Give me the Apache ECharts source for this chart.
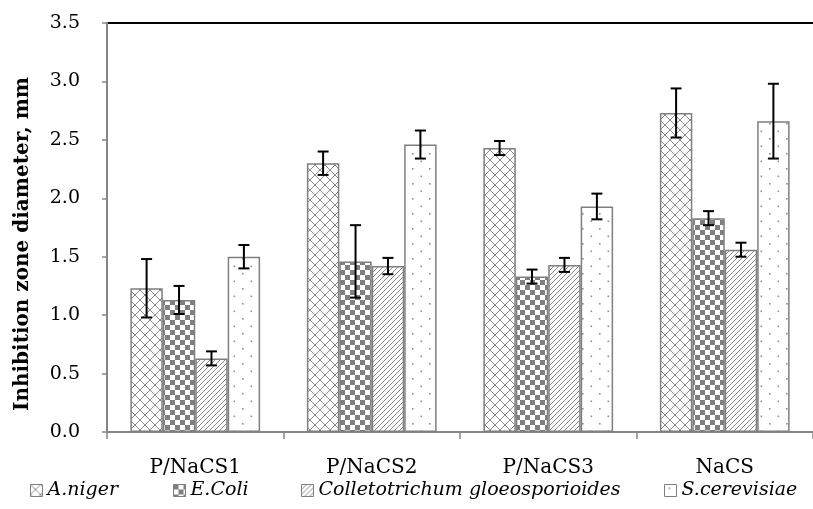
<!DOCTYPE html>
<html>
<head>
<meta charset="utf-8">
<script src="https://cdn.jsdelivr.net/npm/echarts@6/dist/echarts.min.js"></script>
<style>
html,body{margin:0;padding:0;background:#fff;}
#chart{width:813px;height:509px;}
</style>
</head>
<body>
<div id="chart"></div>
<script>
// ---- data ----
const categories = ['P/NaCS1', 'P/NaCS2', 'P/NaCS3', 'NaCS'];
const seriesNames = ['A.niger', 'E.Coli', 'Colletotrichum gloeosporioides', 'S.cerevisiae'];
const anigerValues = [1.23, 2.30, 2.43, 2.73];
const ecoliValues = [1.13, 1.46, 1.33, 1.83];
const colletoValues = [0.63, 1.42, 1.43, 1.56];
const scerValues = [1.50, 2.46, 1.93, 2.66];
const anigerErr = [0.25, 0.10, 0.06, 0.21];
const ecoliErr = [0.12, 0.31, 0.06, 0.06];
const colletoErr = [0.06, 0.07, 0.06, 0.06];
const scerErr = [0.10, 0.12, 0.11, 0.32];
const yTicks = { min: 0, max: 3.5, interval: 0.5 };
const yTitle = 'Inhibition zone diameter, mm';

const allValues = [anigerValues, ecoliValues, colletoValues, scerValues];
const allErrs = [anigerErr, ecoliErr, colletoErr, scerErr];

// ---- patterns ----
const GREY = '#7f7f7f';
function makeCanvas(w, h, draw) {
  const c = document.createElement('canvas');
  c.width = w; c.height = h;
  const ctx = c.getContext('2d');
  ctx.fillStyle = '#fff';
  ctx.fillRect(0, 0, w, h);
  draw(ctx, w, h);
  return c;
}
const crossHatch = makeCanvas(10, 10, (ctx, w, h) => {
  ctx.strokeStyle = '#8c8c8c'; ctx.lineWidth = 1;
  ctx.beginPath();
  ctx.moveTo(0, 0); ctx.lineTo(w, h);
  ctx.moveTo(w, 0); ctx.lineTo(0, h);
  ctx.stroke();
});
const checker = makeCanvas(10, 10, (ctx) => {
  ctx.fillStyle = GREY;
  ctx.fillRect(0, 0, 5, 5);
  ctx.fillRect(5, 5, 5, 5);
});
const diagonal = makeCanvas(5, 5, (ctx, w, h) => {
  ctx.strokeStyle = '#8a8a8a'; ctx.lineWidth = 1;
  ctx.beginPath();
  ctx.moveTo(-1, h + 1); ctx.lineTo(w + 1, -1);
  ctx.moveTo(-1, 1); ctx.lineTo(1, -1);
  ctx.moveTo(w - 1, h + 1); ctx.lineTo(w + 1, h - 1);
  ctx.stroke();
});
const dots = makeCanvas(17, 15, (ctx) => {
  ctx.fillStyle = '#909090';
  ctx.fillRect(4, 3, 1.6, 1.6);
  ctx.fillRect(12.5, 10.5, 1.6, 1.6);
});
const patterns = [crossHatch, checker, diagonal, dots];

const GAP = 0.265;
const barSeries = seriesNames.map((name, k) => ({
  name: name,
  type: 'bar',
  data: allValues[k],
  barGap: '0%',
  barCategoryGap: (GAP * 100) + '%',
  itemStyle: {
    color: { image: patterns[k], repeat: 'repeat' },
    borderColor: GREY,
    borderWidth: 1.5
  },
  z: 2
}));

const errSeries = seriesNames.map((name, k) => ({
  name: name + ' err',
  type: 'custom',
  data: allValues[k].map((v, i) => [i, v, allErrs[k][i]]),
  encode: { x: 0, y: 1 },
  z: 5,
  silent: true,
  renderItem: function (params, api) {
    const i = api.value(0), v = api.value(1), e = api.value(2);
    const catW = api.size([1, 0])[0];
    const barW = catW * (1 - GAP) / 4;
    const cx = api.coord([i, v])[0] + (k - 1.5) * barW;
    const yTop = api.coord([i, v + e])[1];
    const yBot = api.coord([i, v - e])[1];
    const cap = 5.5;
    const st = { stroke: '#000', lineWidth: 2 };
    return {
      type: 'group',
      children: [
        { type: 'line', shape: { x1: cx, y1: yTop, x2: cx, y2: yBot }, style: st },
        { type: 'line', shape: { x1: cx - cap, y1: yTop, x2: cx + cap, y2: yTop }, style: st },
        { type: 'line', shape: { x1: cx - cap, y1: yBot, x2: cx + cap, y2: yBot }, style: st }
      ]
    };
  }
}));

const splitColors = [];
for (let v = yTicks.min; v <= yTicks.max + 1e-9; v += yTicks.interval) splitColors.push('rgba(0,0,0,0)');
splitColors[splitColors.length - 1] = '#000';

const legendLefts = [30, 173, 301, 664];
const legends = seriesNames.map((name, k) => ({
  data: [name],
  left: legendLefts[k],
  top: 481,
  padding: 0,
  itemWidth: 12,
  itemHeight: 12,
  itemGap: 0,
  icon: 'rect',
  textStyle: { fontFamily: 'DejaVu Serif', fontStyle: 'italic', fontSize: 19, color: '#000' },
  itemStyle: { borderColor: GREY, borderWidth: 1 }
}));

const chart = echarts.init(document.getElementById('chart'), null, { renderer: 'canvas' });
chart.setOption({
  backgroundColor: '#fff',
  animation: false,
  grid: { left: 107, right: 0, top: 23, bottom: 77, containLabel: false },
  legend: legends,
  graphic: [{
    type: 'text',
    x: 23,
    y: 244,
    rotation: Math.PI / 2,
    style: {
      text: yTitle,
      fontFamily: 'DejaVu Serif',
      fontWeight: 'bold',
      fontSize: 20,
      fill: '#000',
      textAlign: 'center',
      textVerticalAlign: 'middle'
    }
  }],
  xAxis: {
    type: 'category',
    data: categories,
    axisLine: { lineStyle: { color: '#868686', width: 2 } },
    axisTick: { show: true, length: 7, lineStyle: { color: '#868686', width: 1.5 } },
    axisLabel: { fontFamily: 'DejaVu Serif', fontSize: 20, color: '#000', margin: 26 },
    splitLine: { show: false }
  },
  yAxis: {
    type: 'value',
    min: yTicks.min,
    max: yTicks.max,
    interval: yTicks.interval,
    axisLine: { show: true, lineStyle: { color: '#868686', width: 2 } },
    axisTick: { show: true, length: 5, lineStyle: { color: '#868686', width: 1.5 } },
    axisLabel: { fontFamily: 'DejaVu Serif', fontSize: 19, color: '#000', margin: 27, formatter: v => v.toFixed(1) },
    splitLine: { show: true, lineStyle: { color: splitColors, width: 2 } }
  },
  series: barSeries.concat(errSeries)
});
</script>
</body>
</html>
